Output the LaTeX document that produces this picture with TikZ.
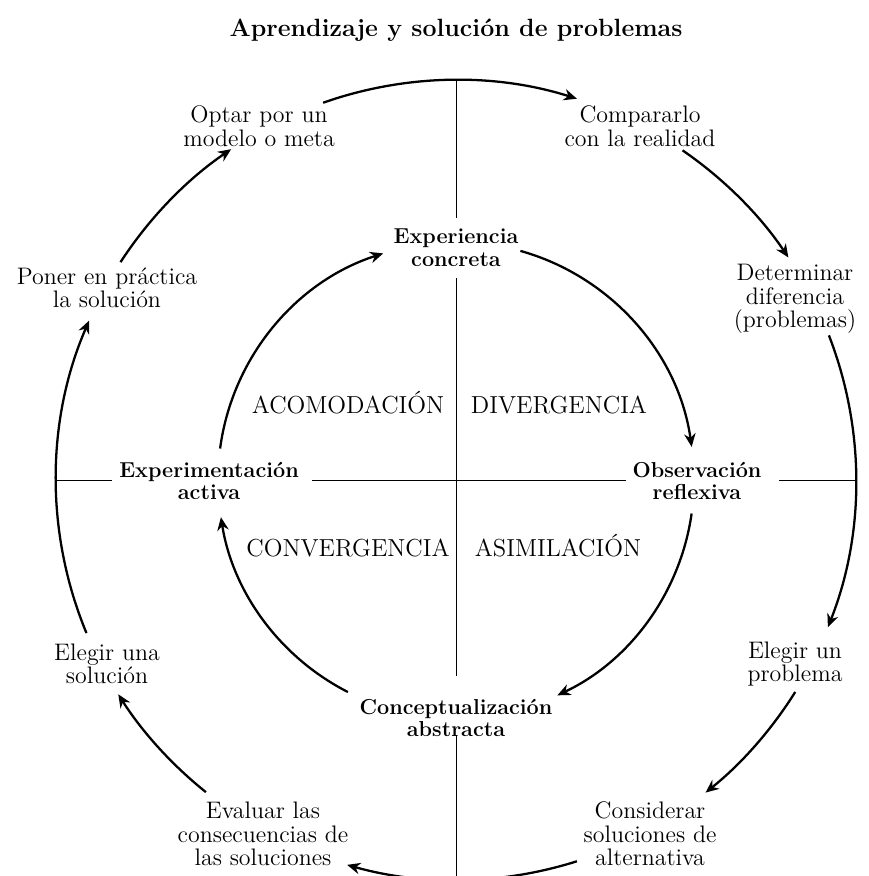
\documentclass[tikz,border=0pt]{standalone}
\usetikzlibrary{arrows.meta}

\begin{document}
\begin{tikzpicture}[x=0.02cm,y=0.02cm,
  txt/.style={align=center, font=\fontsize{13.6}{13.4}\selectfont},
  stage/.style={align=center, font=\fontsize{12.3}{13}\selectfont\bfseries},
  quad/.style={anchor=base, font=\fontsize{14}{12}\selectfont},
  flow/.style={line width=1.3pt, -{Stealth[length=7.5pt,width=6.5pt]}},
  axis/.style={line width=0.5pt}]

\useasboundingbox (0,0) rectangle (869,876);
\coordinate (c) at (456,396);

\node [font=\fontsize{14.2}{15}\selectfont\bfseries] (titulo) at (456,846) {Aprendizaje y soluci\'on de problemas};

% axes
\draw [axis] (456,795) -- (456,658);
\draw [axis] (456,598) -- (456,200);
\draw [axis] (456,141) -- (456,0);
\draw [axis] (56,396) -- (112,396);
\draw [axis] (312,396) -- (626,396);
\draw [axis] (779,396) -- (856,396);

% inner cycle
\node [stage] (concreta) at (456,628) {Experiencia\\concreta};
\node [stage] (reflexiva) at (697,395) {Observaci\'on\\reflexiva};
\node [stage] (abstracta) at (456,158) {Conceptualizaci\'on\\abstracta};
\node [stage] (activa) at (209,395) {Experimentaci\'on\\activa};

\node [quad] (acomodacion) at (348,462) {ACOMODACI\'ON};
\node [quad] (divergencia) at (559,462) {DIVERGENCIA};
\node [quad] (convergencia) at (348,319) {CONVERGENCIA};
\node [quad] (asimilacion) at (558,319) {ASIMILACI\'ON};

\draw [flow] ([shift={(172.4:238)}]c) arc [start angle=172.4, end angle=107.8, radius=238];
\draw [flow] ([shift={(74.3:238)}]c) arc [start angle=74.3, end angle=8, radius=238];
\draw [flow] ([shift={(-8.1:238)}]c) arc [start angle=-8.1, end angle=-64.8, radius=238];
\draw [flow] ([shift={(-117:238)}]c) arc [start angle=-117, end angle=-171, radius=238];

% outer cycle
\node [txt] (optar) at (259,750) {Optar por un\\modelo o meta};
\node [txt] (comparar) at (640,750) {Compararlo\\con la realidad};
\node [txt] (determinar) at (795,577) {Determinar\\diferencia\\(problemas)};
\node [txt] (problema) at (795,212) {Elegir un\\problema};
\node [txt] (considerar) at (650,42) {Considerar\\soluciones de\\alternativa};
\node [txt] (evaluar) at (263,42) {Evaluar las\\consecuencias de\\las soluciones};
\node [txt] (elegir) at (107,212) {Elegir una\\soluci\'on};
\node [txt] (poner) at (107,588) {Poner en pr\'actica\\la soluci\'on};

\draw [flow] ([shift={(109.4:400)}]c) arc [start angle=109.4, end angle=72.4, radius=400];
\draw [flow] ([shift={(55.5:400)}]c) arc [start angle=55.5, end angle=33.8, radius=400];
\draw [flow] ([shift={(21.2:400)}]c) arc [start angle=21.2, end angle=-21.6, radius=400];
\draw [flow] ([shift={(-32:400)}]c) arc [start angle=-32, end angle=-51.4, radius=400];
\draw [flow] ([shift={(-72.4:400)}]c) arc [start angle=-72.4, end angle=-105.8, radius=400];
\draw [flow] ([shift={(-128.7:400)}]c) arc [start angle=-128.7, end angle=-147.6, radius=400];
\draw [flow] ([shift={(-157.5:400)}]c) arc [start angle=-157.5, end angle=-203.5, radius=400];
\draw [flow] ([shift={(147:400)}]c) arc [start angle=147, end angle=124.2, radius=400];

\end{tikzpicture}
\end{document}
